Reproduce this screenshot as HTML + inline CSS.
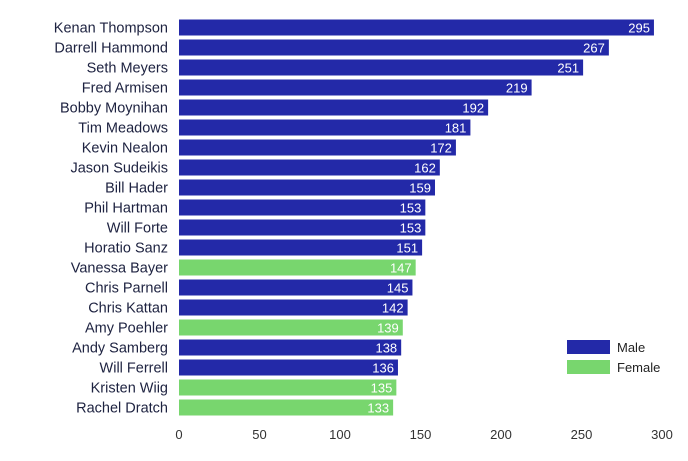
<!DOCTYPE html>
<html><head><meta charset="utf-8"><style>
body{margin:0;background:#fff;font-family:"Liberation Sans",sans-serif}
</style></head><body>
<svg id="c" width="688" height="456"></svg>
<script>
const names=["Kenan Thompson","Darrell Hammond","Seth Meyers","Fred Armisen","Bobby Moynihan","Tim Meadows","Kevin Nealon","Jason Sudeikis","Bill Hader","Phil Hartman","Will Forte","Horatio Sanz","Vanessa Bayer","Chris Parnell","Chris Kattan","Amy Poehler","Andy Samberg","Will Ferrell","Kristen Wiig","Rachel Dratch"];
const values=[295,267,251,219,192,181,172,162,159,153,153,151,147,145,142,139,138,136,135,133];
const genders=["M","M","M","M","M","M","M","M","M","M","M","M","F","M","M","F","M","M","F","F"];
const ticks=[0,50,100,150,200,250,300];
const svg=document.getElementById('c');
const NS="http://www.w3.org/2000/svg";
const x=v=>179+v*1.61;
const y=i=>19.5+i*20;
function mk(t,a,txt){const e=document.createElementNS(NS,t);for(const k in a)e.setAttribute(k,a[k]);if(txt!==undefined)e.textContent=txt;svg.appendChild(e);return e;}
const col={M:"#2329a8",F:"#78d66e"};
names.forEach((n,i)=>{
 const r=mk('rect',{x:x(0),y:y(i),width:x(values[i])-x(0),height:16,fill:col[genders[i]]});
 
 
 const l=mk('text',{x:168,y:y(i)+13,'text-anchor':'end','font-size':14.5,fill:'#1d2240'},n);
 
 
 const v=mk('text',{x:x(values[i])-4,y:y(i)+13,'text-anchor':'end','font-size':13,fill:'#fff'},values[i]);
 
 
});
ticks.forEach(t=>{
 const e=mk('text',{x:x(t),y:439,'text-anchor':'middle','font-size':13,fill:'#333'},t);
 
 
});
[["Male","M",340],["Female","F",360]].forEach(([lab,g,yy])=>{
 const s=mk('rect',{x:567,y:yy,width:43,height:14,fill:col[g]});
 
 
 const t=mk('text',{x:617,y:yy+12,'font-size':13,fill:'#222'},lab);
 
 
});
</script>
</body></html>
